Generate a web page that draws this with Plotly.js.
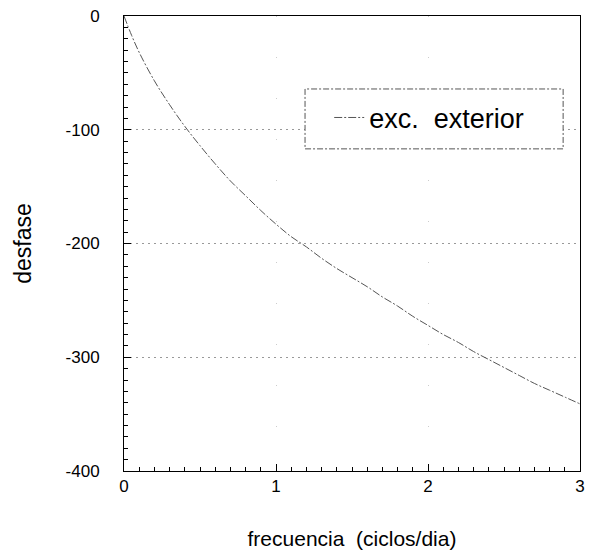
<!DOCTYPE html>
<html>
<head>
<meta charset="utf-8">
<script src="https://cdn.plot.ly/plotly-3.0.1.min.js"></script>
<style>
  html, body { margin: 0; padding: 0; background: #fff; }
  #chart { width: 596px; height: 550px; }
</style>
</head>
<body>
<div id="chart"></div>
<script>
// Frequency (cycles/day)
const frecuencia = [0, 0.05, 0.1, 0.2, 0.3, 0.4, 0.5, 0.6, 0.7, 0.8, 0.9, 1.0,
  1.1, 1.2, 1.3, 1.4, 1.5, 1.6, 1.7, 1.8, 1.9, 2.0,
  2.1, 2.2, 2.3, 2.4, 2.5, 2.6, 2.7, 2.8, 2.9, 3.0];
// Phase shift, exterior excitation
const desfase = [0, -17, -32, -57, -78, -97, -114, -130, -145, -158, -171, -183,
  -194, -203, -213, -222, -230, -238, -247, -255, -264, -272,
  -280, -287, -295, -302, -309, -316, -323, -329, -335, -341];
const seriesName = 'exc.\u00a0\u00a0exterior';

const xTickVals = [0, 1, 2, 3];
const xTickText = ['0', '1', '2', '3'];
const yTickVals = [0, -100, -200, -300, -400];
const yTickText = ['0', '-100', '-200', '-300', '-400'];

const FONT = 'Liberation Sans, Arial, Helvetica, sans-serif';

const trace = {
  x: frecuencia,
  y: desfase,
  type: 'scatter',
  mode: 'lines',
  name: seriesName,
  line: { color: '#555', width: 1, dash: '8px,2px,2px,2px', shape: 'spline' },
  showlegend: true
};

const layout = {
  width: 596,
  height: 550,
  margin: { l: 124, r: 16, t: 16, b: 79 },
  paper_bgcolor: '#fff',
  plot_bgcolor: '#fff',
  font: { family: FONT, color: '#000', size: 17 },
  showlegend: true,
  legend: {
    x: 0.45, y: 0.776, xanchor: 'left', yanchor: 'middle',
    bgcolor: 'rgba(0,0,0,0)', borderwidth: 0,
    font: { family: FONT, size: 27, color: '#000' }
  },
  shapes: [{
    type: 'rect', xref: 'paper', yref: 'paper',
    x0: 0.397, x1: 0.963, y0: 0.708, y1: 0.8396,
    line: { color: '#555', width: 1, dash: '6px,2px,2px,2px' },
    fillcolor: '#fff', layer: 'above'
  }],
  xaxis: {
    range: [0, 3],
    tickvals: xTickVals,
    ticktext: xTickText,
    ticks: 'inside', ticklen: 7, tickwidth: 1, tickcolor: '#000',
    minor: { ticks: 'inside', dtick: 0.1, ticklen: 4, tickcolor: '#000', showgrid: false },
    showline: true, linecolor: '#000', linewidth: 1, mirror: true,
    showgrid: true, gridcolor: '#ccc', griddash: '1px,40px', gridwidth: 1,
    zeroline: false,
    ticklabelstandoff: 0,
    tickfont: { family: FONT, size: 17, color: '#000' },
    title: { text: 'frecuencia\u00a0\u00a0(ciclos/dia)', font: { family: FONT, size: 21, color: '#000' }, standoff: 40 }
  },
  yaxis: {
    range: [-400, 0],
    tickvals: yTickVals,
    ticktext: yTickText,
    ticks: 'inside', ticklen: 7, tickwidth: 1, tickcolor: '#000',
    minor: { ticks: 'inside', dtick: 10, ticklen: 4, tickcolor: '#000', showgrid: false },
    showline: true, linecolor: '#000', linewidth: 1, mirror: true,
    showgrid: true, gridcolor: '#999', griddash: '2px,4px', gridwidth: 1,
    zeroline: false,
    ticklabelstandoff: 20,
    tickfont: { family: FONT, size: 17, color: '#000' },
    title: { text: 'desfase', font: { family: FONT, size: 23, color: '#000' }, standoff: 27 }
  }
};

Plotly.newPlot('chart', [trace], layout, { displayModeBar: false, staticPlot: true });
</script>
</body>
</html>
